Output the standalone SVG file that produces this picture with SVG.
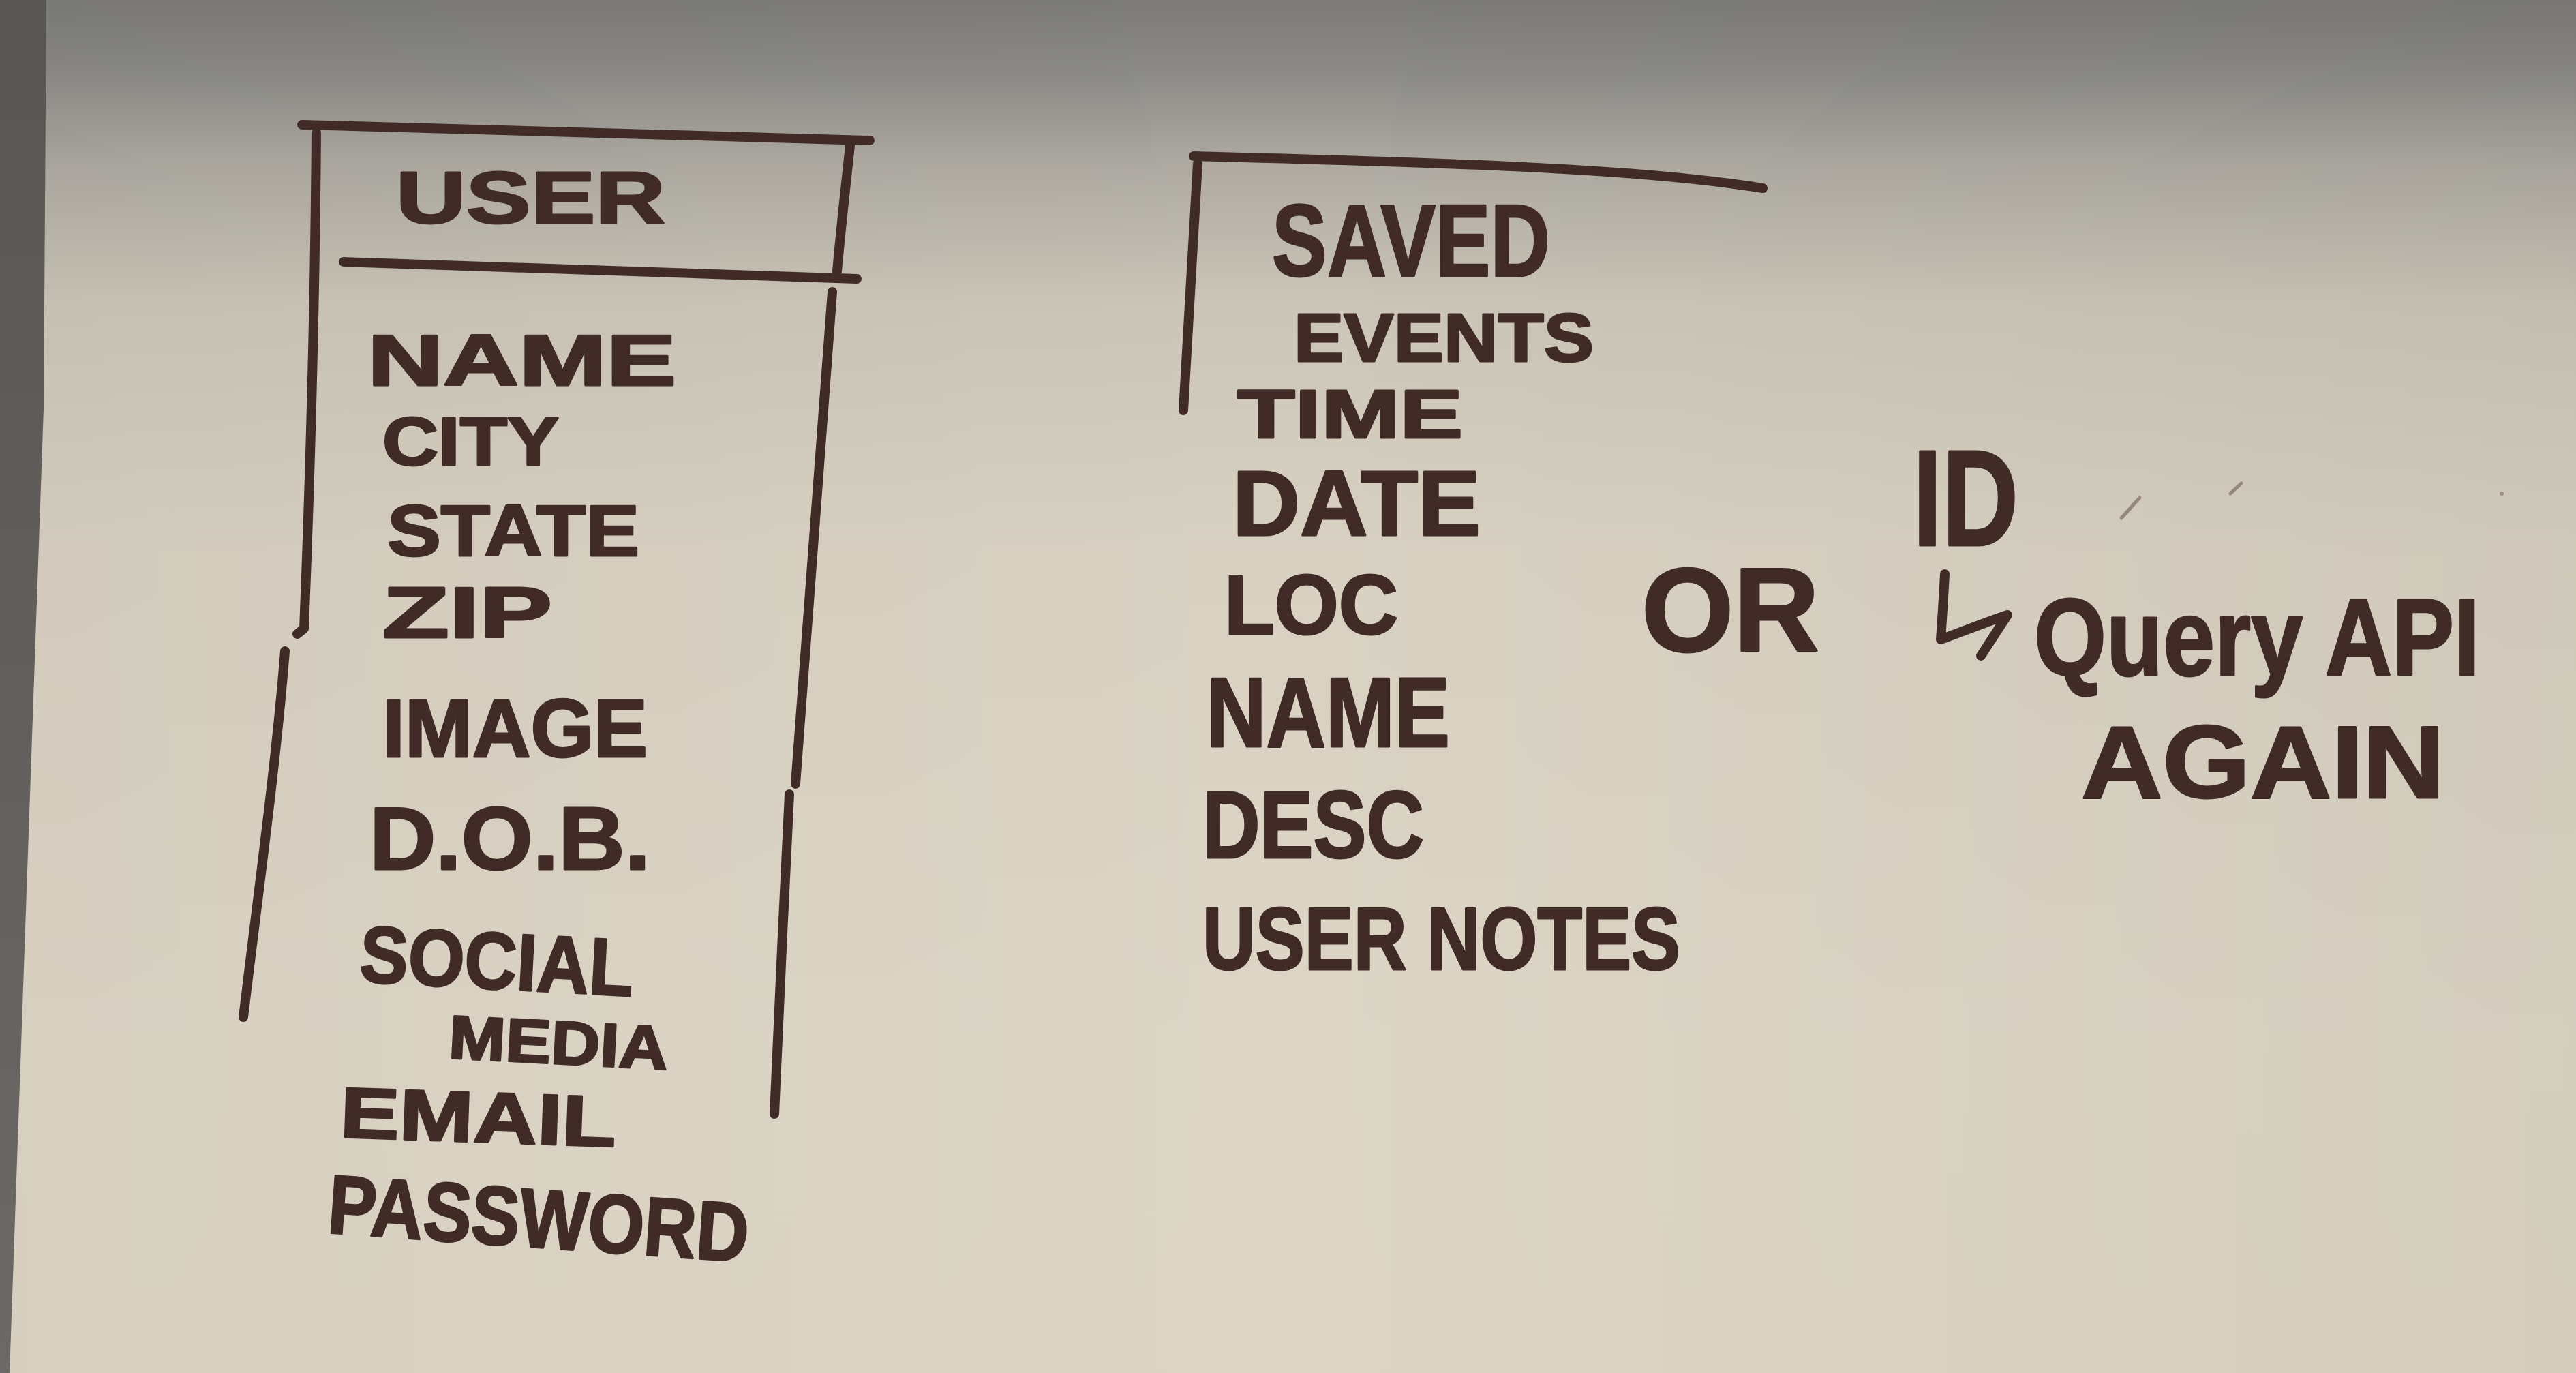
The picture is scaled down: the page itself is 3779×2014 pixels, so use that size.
<svg xmlns="http://www.w3.org/2000/svg" width="3779" height="2014" viewBox="0 0 3779 2014">
<defs>
<linearGradient id="board" x1="0" y1="0" x2="0" y2="1">
<stop offset="0" stop-color="#7c7b78"/>
<stop offset="0.05" stop-color="#8a8985"/>
<stop offset="0.12" stop-color="#aeaaa2"/>
<stop offset="0.22" stop-color="#cbc5b7"/>
<stop offset="0.4" stop-color="#d8d1c2"/>
<stop offset="0.75" stop-color="#ddd6c6"/>
<stop offset="1" stop-color="#ddd5c5"/>
</linearGradient>
<linearGradient id="shade" x1="0" y1="0" x2="1" y2="0">
<stop offset="0" stop-color="#000" stop-opacity="0.03"/>
<stop offset="0.5" stop-color="#000" stop-opacity="0"/>
<stop offset="1" stop-color="#000" stop-opacity="0.04"/>
</linearGradient>
<linearGradient id="strip" x1="0" y1="0" x2="0" y2="1">
<stop offset="0" stop-color="#575653"/>
<stop offset="1" stop-color="#6b6965"/>
</linearGradient>
</defs>
<style>
.ink{fill:none;stroke:#402b27;stroke-width:14;stroke-linecap:round;stroke-linejoin:round}
.t{font-family:"Liberation Sans","DejaVu Sans",sans-serif;font-weight:700;fill:#402b27;stroke:#402b27;stroke-width:3;stroke-linejoin:round}
.speck{fill:none;stroke:#6d5a52;stroke-width:5;stroke-linecap:round;opacity:0.6}
</style>
<rect x="0" y="0" width="3779" height="2014" fill="url(#board)"/>
<rect x="0" y="0" width="3779" height="2014" fill="url(#shade)"/>
<polygon points="0,0 68,0 64,600 14,2014 0,2014" fill="url(#strip)"/>

<g id="user-table">
<path class="ink" d="M443,183 C800,192 1050,200 1276,206"/>
<path class="ink" d="M464,195 C462,450 455,700 446,922 L436,930"/>
<path class="ink" d="M418,955 C405,1120 380,1300 357,1492"/>
<path class="ink" d="M1247,213 C1240,280 1233,340 1228,398"/>
<path class="ink" d="M504,384 C800,392 1050,402 1257,409"/>
<path class="ink" d="M1221,428 C1200,700 1183,950 1167,1150"/>
<path class="ink" d="M1158,1165 C1150,1320 1143,1480 1136,1634"/>
<text class="t" x="581" y="327" font-size="108" textLength="395" lengthAdjust="spacingAndGlyphs">USER</text>
<text class="t" x="539" y="565" font-size="105" textLength="453" lengthAdjust="spacingAndGlyphs">NAME</text>
<text class="t" x="561" y="682" font-size="100" textLength="259" lengthAdjust="spacingAndGlyphs">CITY</text>
<text class="t" x="568" y="815" font-size="105" textLength="370" lengthAdjust="spacingAndGlyphs">STATE</text>
<text class="t" x="561" y="935" font-size="105" textLength="249" lengthAdjust="spacingAndGlyphs">ZIP</text>
<text class="t" x="561" y="1110" font-size="120" textLength="389" lengthAdjust="spacingAndGlyphs">IMAGE</text>
<text class="t" x="542" y="1275" font-size="130" textLength="412" lengthAdjust="spacingAndGlyphs">D.O.B.</text>
<text class="t" x="526" y="1440" font-size="118" textLength="402" lengthAdjust="spacingAndGlyphs" transform="rotate(3 526 1440)">SOCIAL</text>
<text class="t" x="657" y="1552" font-size="90" textLength="322" lengthAdjust="spacingAndGlyphs" transform="rotate(3 657 1552)">MEDIA</text>
<text class="t" x="498" y="1668" font-size="105" textLength="405" lengthAdjust="spacingAndGlyphs" transform="rotate(2 498 1668)">EMAIL</text>
<text class="t" x="479" y="1808" font-size="122" textLength="618" lengthAdjust="spacingAndGlyphs" transform="rotate(4 479 1808)">PASSWORD</text>
</g>

<g id="saved-events">
<path class="ink" d="M1751,229 C2100,238 2400,246 2586,276"/>
<path class="ink" d="M1757,240 C1750,360 1743,480 1736,602"/>
<text class="t" x="1866" y="405" font-size="150" textLength="408" lengthAdjust="spacingAndGlyphs">SAVED</text>
<text class="t" x="1898" y="530" font-size="100" textLength="440" lengthAdjust="spacingAndGlyphs">EVENTS</text>
<text class="t" x="1815" y="642" font-size="100" textLength="331" lengthAdjust="spacingAndGlyphs">TIME</text>
<text class="t" x="1808" y="785" font-size="135" textLength="364" lengthAdjust="spacingAndGlyphs">DATE</text>
<text class="t" x="1796" y="930" font-size="125" textLength="255" lengthAdjust="spacingAndGlyphs">LOC</text>
<text class="t" x="1770" y="1095" font-size="145" textLength="357" lengthAdjust="spacingAndGlyphs">NAME</text>
<text class="t" x="1764" y="1258" font-size="140" textLength="325" lengthAdjust="spacingAndGlyphs">DESC</text>
<text class="t" x="1764" y="1422" font-size="130" textLength="701" lengthAdjust="spacingAndGlyphs">USER NOTES</text>
</g>

<g id="note-or">
<text class="t" x="2408" y="955" font-size="175" textLength="261" lengthAdjust="spacingAndGlyphs">OR</text>
</g>

<g id="note-id-query">
<text class="t" x="2806" y="800" font-size="200" textLength="155" lengthAdjust="spacingAndGlyphs">ID</text>
<text class="t" x="2984" y="990" font-size="160" textLength="654" lengthAdjust="spacingAndGlyphs">Query API</text>
<text class="t" x="3053" y="1170" font-size="150" textLength="533" lengthAdjust="spacingAndGlyphs">AGAIN</text>
</g>

<g id="connectors">
<path class="ink" d="M2853,842 C2851,880 2849,910 2847,938 C2880,926 2915,912 2945,902 L2906,962"/>
</g>

<path class="speck" d="M3139,730 L3112,760"/>
<path class="speck" d="M3288,709 L3272,724"/>
<circle cx="3670" cy="724" r="3" fill="#6d5a52" opacity="0.5"/>
</svg>
